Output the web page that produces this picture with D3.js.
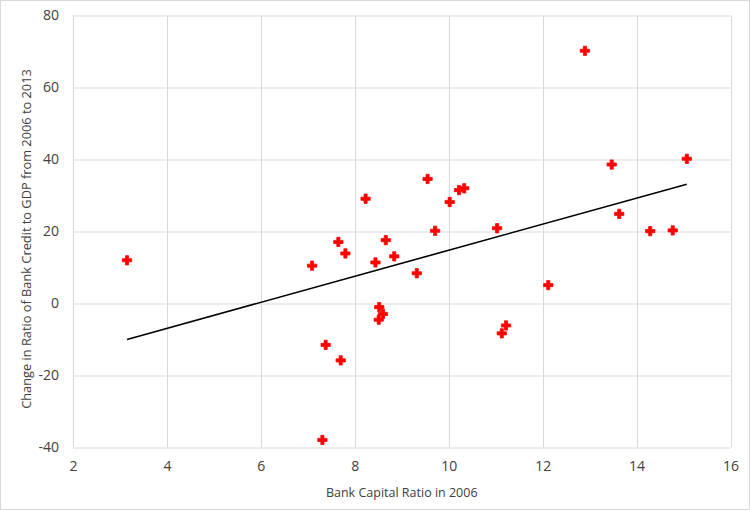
<!DOCTYPE html>
<html>
<head>
<meta charset="utf-8">
<script src="https://cdn.jsdelivr.net/npm/d3@7"></script>
<style>
  body { margin: 0; background: #fff; }
  text { font-family: "Open Sans", "Noto Sans", sans-serif; fill: #404040; }
</style>
</head>
<body>
<svg width="750" height="511"></svg>
<script>
// bank capital ratio in 2006 (x) and change in credit/GDP 2006-2013 (y)
var capitalRatio = [3.15, 7.09, 7.65, 7.80, 7.38, 7.70, 7.31, 8.23, 8.44, 8.66,
                    8.84, 9.32, 9.55, 9.71, 10.02, 10.22, 10.33, 11.03, 8.52, 8.60,
                    8.51, 11.22, 11.13, 12.90, 13.47, 15.07, 13.63, 14.29, 14.77, 12.12];
var creditChange = [12.0, 10.5, 17.1, 13.9, -11.5, -15.8, -37.9, 29.1, 11.4, 17.6,
                    13.1, 8.4, 34.6, 20.2, 28.2, 31.5, 32.0, 20.9, -1.0, -2.9,
                    -4.5, -6.1, -8.3, 70.2, 38.6, 40.2, 24.9, 20.1, 20.3, 5.1];
var xTicks = [2, 4, 6, 8, 10, 12, 14, 16];
var yTicks = [-40, -20, 0, 20, 40, 60, 80];

var svg = d3.select("svg"),
    margin = { top: 15.5, right: 19.5, bottom: 63.5, left: 73 },
    width = +svg.attr("width") - margin.left - margin.right,
    height = +svg.attr("height") - margin.top - margin.bottom;

// outer chart border
svg.append("rect")
    .attr("x", 0.5).attr("y", 0.5)
    .attr("width", 749).attr("height", 509)
    .attr("fill", "none")
    .attr("stroke", "#d9d9d9");

var g = svg.append("g").attr("transform", "translate(" + margin.left + "," + margin.top + ")");

var data = capitalRatio.map((d, i) => ({ x: d, y: creditChange[i] }));

var x = d3.scaleLinear().domain([2, 16]).range([0, width]);
var y = d3.scaleLinear().domain([-40, 80]).range([height, 0]);

// gridlines
g.append("g")
    .selectAll("line")
    .data(xTicks)
    .enter().append("line")
    .attr("x1", d => Math.round(x(d)) + 0.5)
    .attr("x2", d => Math.round(x(d)) + 0.5)
    .attr("y1", 0).attr("y2", height)
    .attr("stroke", "#d9d9d9");

g.append("g")
    .selectAll("line")
    .data(yTicks)
    .enter().append("line")
    .attr("y1", d => Math.round(y(d)) + 0.5)
    .attr("y2", d => Math.round(y(d)) + 0.5)
    .attr("x1", 0).attr("x2", width)
    .attr("stroke", "#d9d9d9");

// axes (plain hyphen for negatives, like the original)
var fmt = d => String(d);

var xAxis = g.append("g")
    .attr("transform", "translate(0," + height + ")")
    .call(d3.axisBottom(x).tickValues(xTicks).tickFormat(fmt).tickSize(0).tickPadding(14));
xAxis.select(".domain").remove();
xAxis.selectAll("text").style("font-size", "14px").attr("fill", "#404040");

var yAxis = g.append("g")
    .call(d3.axisLeft(y).tickValues(yTicks).tickFormat(fmt).tickSize(0).tickPadding(14));
yAxis.select(".domain").remove();
yAxis.selectAll("text").style("font-size", "14px").attr("fill", "#404040");

// axis titles
svg.append("text")
    .attr("x", margin.left + width / 2)
    .attr("y", 497)
    .attr("text-anchor", "middle")
    .style("font-size", "12.5px")
    .text("Bank Capital Ratio in 2006");

svg.append("text")
    .attr("transform", "translate(31,239) rotate(-90)")
    .attr("text-anchor", "middle")
    .style("font-size", "12.8px")
    .text("Change in Ratio of Bank Credit to GDP from 2006 to 2013");

// least squares trend line
var mx = d3.mean(data, d => d.x), my = d3.mean(data, d => d.y);
var slope = d3.sum(data, d => (d.x - mx) * (d.y - my)) / d3.sum(data, d => (d.x - mx) * (d.x - mx));
var xr = d3.extent(data, d => d.x);
var trend = xr.map(v => ({ x: v, y: my + slope * (v - mx) }));

g.append("path")
    .datum(trend)
    .attr("fill", "none")
    .attr("stroke", "#000")
    .attr("stroke-width", 1.6)
    .attr("d", d3.line().x(d => x(d.x)).y(d => y(d.y)));

// markers
g.selectAll("path.pt")
    .data(data)
    .enter().append("path")
    .attr("class", "pt")
    .attr("transform", d => "translate(" + x(d.x) + "," + y(d.y) + ")")
    .attr("d", d3.symbol().type(d3.symbolCross).size(48))
    .attr("fill", "#ff0000")
    .attr("stroke", "#ff0000")
    .attr("stroke-width", 0.8)
    .attr("stroke-linejoin", "round");
</script>
</body>
</html>
